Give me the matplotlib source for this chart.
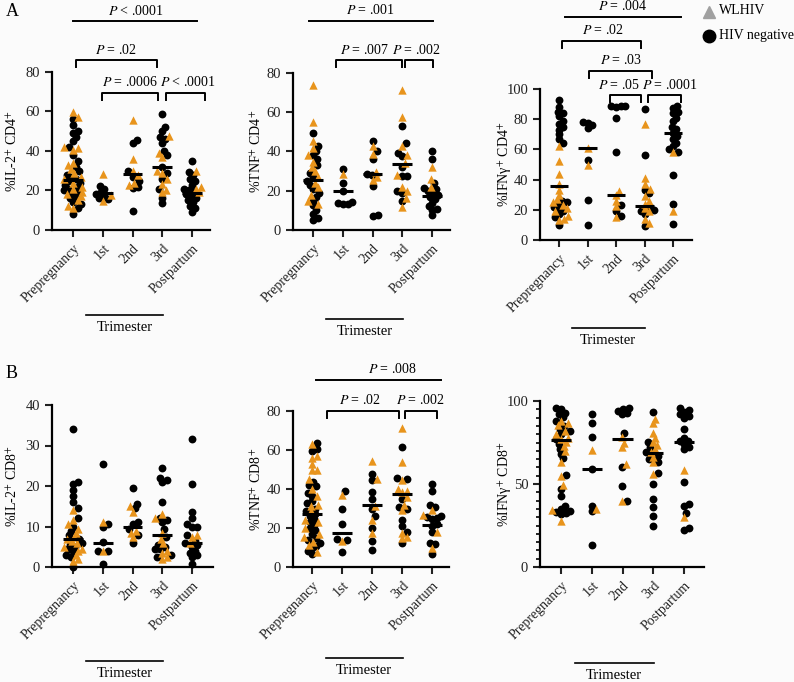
import numpy as np
import matplotlib
matplotlib.use('Agg')
import matplotlib.pyplot as plt
import matplotlib.transforms as mtransforms
from matplotlib.lines import Line2D

plt.rcParams['font.family'] = ['Liberation Serif', 'DejaVu Serif']
plt.rcParams['mathtext.fontset'] = 'stix'
plt.rcParams['font.size'] = 10

ORANGE = '#E8941C'
BG = '#fbfbfb'

GROUPS = ['Prepregnancy', '1st', '2nd', '3rd', 'Postpartum']

# --- Valors llegits de la figura (per grup: Prepregnancy, 1st, 2nd, 3rd, Postpartum) ---
il2_cd4_wlhiv = [[59.5, 57, 42, 41.5, 40.5, 34, 33, 31, 29, 27, 26, 24, 22, 21, 19, 18, 17, 15, 12, 11],
                 [28.3, 17.5, 14.5],
                 [55.5, 36, 30, 28, 24, 23],
                 [47.5, 39, 37, 30, 29, 26, 23.5, 20.5, 19],
                 [30, 22, 21, 19]]
il2_cd4_neg = [[56, 53, 50, 49, 47, 45, 42, 38, 35, 32, 30, 28, 27, 26, 25, 24, 23, 22, 21, 20, 19, 18, 17, 16, 14, 13, 11, 8],
               [22.4, 21, 19, 18, 17, 16, 15.5],
               [45.5, 44, 30, 27, 25, 22, 21.5, 9.5],
               [58.5, 52, 50, 47, 46, 44, 40, 38, 32, 29, 26, 21, 16, 13.5],
               [35, 29.5, 28, 26, 25, 23, 21, 20, 19, 18, 17, 16, 15, 14, 12, 11, 9]]
il2_cd4_median = [25.5, 18.5, 28.3, 32, 18.5]

tnf_cd4_wlhiv = [[74, 55, 45.5, 42, 38, 34.5, 32, 30, 27, 24, 22, 18, 15, 13.5],
                 [28.5],
                 [43, 38.5, 29.5, 27, 25.5],
                 [71.5, 57.5, 43, 38, 34, 28, 22, 20, 16.5, 11.5],
                 [32, 26, 22]]
tnf_cd4_neg = [[49.5, 43, 40, 38, 36, 33, 29, 27, 25, 23, 21, 19, 17, 15, 12.5, 10, 8, 6, 5],
               [31, 24, 20, 14.5, 14, 13.5, 13],
               [45.5, 40, 36, 28.5, 28, 22.5, 7.5, 7],
               [53, 44.5, 39, 37.5, 32, 27.5, 27.5, 20, 19, 15],
               [40, 36, 24, 21.5, 21, 20, 19, 18, 17, 16, 14, 12, 10.5, 10, 7.5]]
tnf_cd4_median = [25.3, 20, 28.5, 33.5, 17.5]

ifng_cd4_wlhiv = [[62, 52, 44, 37, 33, 30, 27, 25, 23, 21, 19, 16, 14, 13.5],
                  [61, 50],
                  [32.5, 30, 26, 22.5, 15.5],
                  [76.5, 41, 37, 34, 29, 26, 24, 21, 19, 14, 11],
                  [58, 19]]
ifng_cd4_neg = [[93, 88, 85, 84, 82, 79, 77, 75, 73, 70, 67, 64, 26, 25, 24, 22, 21, 19, 17, 15, 10],
                [78, 77.5, 76, 74, 53, 26.5, 10],
                [89, 89, 88.5, 88, 81, 58.5, 23, 19, 16],
                [86.5, 56.5, 33, 31, 22, 20, 19, 17, 9],
                [89, 87.5, 85, 84, 81, 78.5, 75, 73.5, 71, 69, 67, 64.5, 62, 60, 58.5, 43, 24, 10.5]]
ifng_cd4_median = [36, 61, 29.5, 22.5, 71]

il2_cd8_wlhiv = [[14, 11.5, 10.5, 9.5, 8.5, 7.5, 7, 6.5, 6, 5, 4.5, 4, 3, 2, 1.5],
                 [11.2, 4],
                 [15, 13.5, 9, 8.5, 7.5],
                 [13, 12, 8.5, 7, 6, 4, 3.5, 2.5, 2],
                 [8, 7.5, 6]]
il2_cd8_neg = [[34, 21, 20.5, 19, 17.5, 16, 14.5, 12, 10, 9, 8, 7, 6, 5.5, 5, 4.5, 4, 3, 2.5, 0],
               [25.5, 10.5, 10, 6.2, 4, 4, 0.8],
               [19.5, 15.5, 14.5, 11, 10.5, 9.5, 8, 6],
               [24.5, 22, 21.5, 21, 16, 12, 11.5, 11, 9.5, 7.5, 5.5, 5, 4.5, 4.5, 3, 2.5],
               [31.5, 20.5, 13.5, 12, 10.5, 10, 10, 8, 6.5, 6, 5.5, 5, 4, 3.5, 3, 2.5, 0.8]]
il2_cd8_median = [7, 6, 10, 7.8, 6]

tnf_cd8_wlhiv = [[63, 57, 56, 53, 50, 49.5, 45, 40, 36.5, 32, 31.5, 28.5, 24, 23, 20, 17, 15.5, 13, 11.5, 7.5],
                 [37, 13.5],
                 [54.5, 45, 31.5, 24, 17.5],
                 [71.5, 54, 44.5, 40, 39, 38.5, 36, 32, 29, 17.5, 15.5, 15],
                 [29, 26.5, 18, 10]]
tnf_cd8_neg = [[63.5, 60.5, 59.5, 43.5, 42, 41.5, 38, 36.5, 34, 33, 30, 28.5, 27, 26, 24.5, 23, 21.5, 20, 19, 17, 15, 14, 12.5, 11, 9.5, 8, 6.5],
               [39, 29.5, 22, 14.5, 14, 7.5],
               [47.5, 44.5, 38.5, 35, 29.5, 26, 20, 13.5, 8.5],
               [61.5, 45.5, 45, 35, 31, 29.5, 24, 21, 18, 12.5],
               [42.5, 39, 32, 31, 26, 25.5, 25, 24.5, 22, 21, 18, 12.5, 12, 6.5]]
tnf_cd8_median = [27, 17.5, 32, 37.5, 21.5]

ifng_cd8_wlhiv = [[88, 87, 85.5, 82, 80, 78, 77, 75.5, 73, 70, 63, 55, 49.5, 34.5, 27.5],
                  [70.5, 35],
                  [78.5, 75, 72.5, 62, 40],
                  [89, 86.5, 81, 78, 75.5, 73.5, 71, 69, 66.5, 63, 56],
                  [58.5, 30]]
ifng_cd8_neg = [[95.5, 95, 93, 92, 90.5, 88, 85, 83, 82, 80, 77, 74, 71, 68, 65.5, 55.5, 47, 43, 36.5, 35, 33.5, 33, 32.5, 32],
                [92, 87, 78.5, 59, 36.5, 33.5, 13],
                [95.5, 95, 94, 93, 92, 81, 60.5, 49, 40],
                [93.5, 75.5, 72, 69, 67, 65, 63.5, 56.5, 50, 41, 36, 31, 25],
                [95.5, 94.5, 93.5, 92, 91, 90, 83, 77.5, 76, 76, 74, 72, 71, 51.5, 38, 37, 32.5, 23.5, 22.5]]
ifng_cd8_median = [76.5, 59, 77, 68.5, 75.5]

# Comparacions significatives: (x inici, x final, nivell y, text, x del text, amb potes)
brackets_a1 = [(0.0, 4.17, 105.8, '$P$ < .0001', 2.1, False),
               (0.1, 2.82, 86.0, '$P$ = .02', 1.46, True),
               (0.97, 2.86, 69.4, '$P$ = .0006', 1.9, True),
               (3.13, 4.44, 69.4, '$P$ < .0001', 3.85, True)]
brackets_a2 = [(-0.13, 4.03, 106.5, '$P$ = .001', 1.92, False),
               (0.77, 2.99, 86.6, '$P$ = .007', 1.72, True),
               (3.09, 4.03, 86.6, '$P$ = .002', 3.48, True)]
brackets_a3 = [(0.21, 4.28, 147.7, '$P$ = .004', 2.25, False),
               (0.1, 2.88, 131.8, '$P$ = .02', 1.54, True),
               (1.05, 3.26, 112.0, '$P$ = .03', 2.18, True),
               (1.79, 2.88, 96.0, '$P$ = .05', 2.1, True),
               (3.12, 4.28, 96.0, '$P$ = .0001', 3.9, True)]
brackets_b2 = [(0.13, 4.3, 95.9, '$P$ = .008', 2.67, False),
               (0.5, 2.9, 80.0, '$P$ = .02', 1.6, True),
               (3.1, 4.17, 80.0, '$P$ = .002', 3.6, True)]

W, H = 794, 682
fig = plt.figure(figsize=(W / 100, H / 100), dpi=100, facecolor=BG)

# Caixes dels eixos en píxels: x0, x1, y superior, y inferior; posició de la 1a i l'última categoria
panels = [
    dict(box=(52, 210, 72, 230), p=(73, 192), ymax=80, yt=np.arange(0, 81, 20), minor=None,
         wl=il2_cd4_wlhiv, neg=il2_cd4_neg, med=il2_cd4_median, br=brackets_a1,
         ylabel='%IL-2$^{+}$ CD4$^{+}$', tri_y=315, lab_px=20),
    dict(box=(293, 450, 73, 230), p=(313, 432), ymax=80, yt=np.arange(0, 81, 20), minor=None,
         wl=tnf_cd4_wlhiv, neg=tnf_cd4_neg, med=tnf_cd4_median, br=brackets_a2,
         ylabel='%TNF$^{+}$ CD4$^{+}$', tri_y=319, lab_px=264),
    dict(box=(540, 692, 89, 240), p=(559, 673), ymax=100, yt=np.arange(0, 101, 20), minor=None,
         wl=ifng_cd4_wlhiv, neg=ifng_cd4_neg, med=ifng_cd4_median, br=brackets_a3,
         ylabel='%IFNγ$^{+}$ CD4$^{+}$', tri_y=328, lab_px=514),
    dict(box=(52, 213, 405, 567), p=(73, 192), ymax=40, yt=np.arange(0, 41, 10), minor=None,
         wl=il2_cd8_wlhiv, neg=il2_cd8_neg, med=il2_cd8_median, br=[],
         ylabel='%IL-2$^{+}$ CD8$^{+}$', tri_y=661, lab_px=20),
    dict(box=(293, 449, 411, 567), p=(312, 432), ymax=80, yt=np.arange(0, 81, 20), minor=None,
         wl=tnf_cd8_wlhiv, neg=tnf_cd8_neg, med=tnf_cd8_median, br=brackets_b2,
         ylabel='%TNF$^{+}$ CD8$^{+}$', tri_y=658, lab_px=264),
    dict(box=(540, 704, 401, 567), p=(561, 684), ymax=100, yt=np.arange(0, 101, 50), minor=np.arange(0, 101, 5),
         wl=ifng_cd8_wlhiv, neg=ifng_cd8_neg, med=ifng_cd8_median, br=[],
         ylabel='%IFNγ$^{+}$ CD8$^{+}$', tri_y=663, lab_px=514),
]


def swarm(ax, xc, vals, dmin=4.5, maxw=9.0, step=1.0):
    # Disposició tipus beeswarm en píxels, amb solapament parcial com a Prism
    vals = np.asarray(vals, dtype=float)
    pts = ax.transData.transform(np.column_stack([np.full(len(vals), xc), vals]))
    offs = [0.0]
    k = 1
    while k * step <= maxw:
        offs += [k * step, -k * step]
        k += 1
    placed = []
    xs = np.zeros(len(vals))
    for i in np.argsort(vals):
        x0, y = pts[i]
        best, best_d = 0.0, -1
        for off in offs:
            d = min([np.hypot(x0 + off - px, y - py) for px, py in placed], default=99)
            if d >= dmin:
                best = off
                break
            if d > best_d:
                best, best_d = off, d
        placed.append((x0 + best, y))
        xs[i] = x0 + best
    back = ax.transData.inverted().transform(np.column_stack([xs, pts[:, 1]]))
    return back[:, 0]


for pn in panels:
    x0, x1, ytop, ybot = pn['box']
    p0, p4 = pn['p']
    ax = fig.add_axes([x0 / W, 1 - ybot / H, (x1 - x0) / W, (ybot - ytop) / H])
    ax.set_facecolor(BG)
    s = (p4 - p0) / 4
    ax.set_xlim(-(p0 - x0) / s, 4 + (x1 - p4) / s)
    ax.set_ylim(0, pn['ymax'])
    ax.set_yticks(pn['yt'])
    if pn['minor'] is not None:
        ax.set_yticks(pn['minor'], minor=True)
        ax.tick_params(axis='y', which='minor', length=3, width=1.2)
    for side in ['top', 'right']:
        ax.spines[side].set_visible(False)
    for side in ['left', 'bottom']:
        ax.spines[side].set_linewidth(1.6)
    ax.tick_params(axis='both', which='major', length=5, width=1.5, labelsize=10.5, colors='#222222')
    ax.set_xticks(range(5))
    ax.set_xticklabels(GROUPS, rotation=45, ha='right', rotation_mode='anchor', fontsize=10)
    ax.set_ylabel(pn['ylabel'], fontsize=10)
    ax.yaxis.set_label_coords((pn['lab_px'] - x0) / (x1 - x0), 0.5)

    for i in range(5):
        vals = np.array(pn['wl'][i] + pn['neg'][i], dtype=float)
        tri = np.array([True] * len(pn['wl'][i]) + [False] * len(pn['neg'][i]))
        xs = swarm(ax, i, vals)
        ax.scatter(xs[~tri], vals[~tri], marker='o', s=32, c='black', linewidths=0, zorder=3, clip_on=False)
        ax.scatter(xs[tri], vals[tri], marker='^', s=36, c=ORANGE, linewidths=0, zorder=3, clip_on=False)
        ax.hlines(pn['med'][i], i - 0.33, i + 0.33, color='black', lw=2.2, zorder=4)

    ppu = (ybot - ytop) / pn['ymax']  # píxels per unitat
    leg = 7 / ppu
    for a, b, yv, txt, tx, legs in pn['br']:
        if legs:
            ax.plot([a, a, b, b], [yv - leg, yv, yv, yv - leg], color='black', lw=1.4, clip_on=False)
        else:
            ax.plot([a, b], [yv, yv], color='black', lw=1.4, clip_on=False)
        ax.text(tx, yv + 10.5 / ppu, txt, ha='center', va='center', fontsize=10, clip_on=False)

    # Línia i etiqueta "Trimester"
    blend = mtransforms.blended_transform_factory(ax.transData, fig.transFigure)
    ty = 1 - pn['tri_y'] / H
    fig.add_artist(Line2D([0.45, 3.02], [ty, ty], transform=blend, color='black', lw=1.2))
    fig.text(1.73, ty - 6 / H, 'Trimester', transform=blend, ha='center', va='top', fontsize=10.5)

# Lletres de panell i llegenda
fig.text(12 / W, 1 - 12 / H, 'A', fontsize=13, ha='center', va='center')
fig.text(12 / W, 1 - 373 / H, 'B', fontsize=13, ha='center', va='center')
fig.add_artist(Line2D([709 / W], [1 - 12 / H], marker='^', markersize=9, color='#a0a0a0', lw=0))
fig.add_artist(Line2D([709 / W], [1 - 36 / H], marker='o', markersize=9, color='black', lw=0))
fig.text(719 / W, 1 - 11 / H, 'WLHIV', fontsize=10, va='center', ha='left')
fig.text(719 / W, 1 - 36 / H, 'HIV negative', fontsize=10, va='center', ha='left')

fig.savefig('out.png', dpi=100, facecolor=BG)
